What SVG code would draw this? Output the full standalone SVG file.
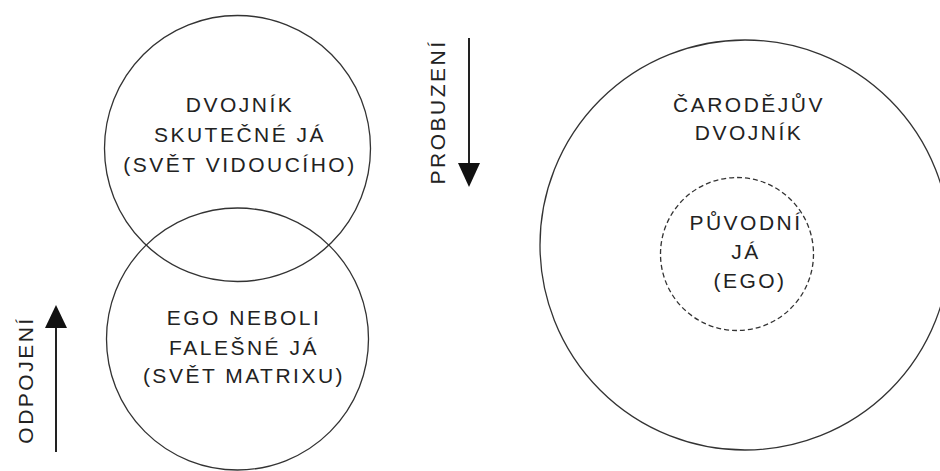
<svg xmlns="http://www.w3.org/2000/svg" width="940" height="471" viewBox="0 0 940 471">
<defs>
<style>
.c{fill:none;stroke:#333;stroke-width:1.3}
.d{fill:none;stroke:#333;stroke-width:1.3;stroke-dasharray:5,3}
.t{font-family:"Liberation Sans",Arial,sans-serif;font-size:21px;fill:#222;text-anchor:middle;letter-spacing:2.5px}
.a{stroke:#222;stroke-width:2;fill:none}
</style>
</defs>
<rect width="940" height="471" fill="#fff"/>
<g id="dvojnik">
<circle class="c" cx="237.5" cy="148.5" r="133"/>
<text class="t" x="240" y="112">DVOJNÍK</text>
<text class="t" x="240" y="142">SKUTEČNÉ JÁ</text>
<text class="t" x="240" y="172">(SVĚT VIDOUCÍHO)</text>
</g>
<g id="ego">
<circle class="c" cx="237.5" cy="339" r="131"/>
<text class="t" x="244" y="325">EGO NEBOLI</text>
<text class="t" x="244" y="355">FALEŠNÉ JÁ</text>
<text class="t" x="244" y="383">(SVĚT MATRIXU)</text>
</g>
<g id="carodejuv">
<circle class="c" cx="745" cy="245" r="205"/>
<text class="t" x="749" y="112">ČARODĚJŮV</text>
<text class="t" x="749" y="140">DVOJNÍK</text>
</g>
<g id="puvodni">
<circle class="d" cx="737" cy="254" r="76.5"/>
<text class="t" x="746" y="230">PŮVODNÍ</text>
<text class="t" x="746" y="259">JÁ</text>
<text class="t" x="750" y="288">(EGO)</text>
</g>
<g id="connectors">
<line class="a" x1="469" y1="38" x2="469" y2="164"/>
<polygon points="458,163 480,163 469,187" fill="#111"/>
<line class="a" x1="56" y1="452" x2="56" y2="326"/>
<polygon points="45,328 67,328 56,305" fill="#111"/>
</g>
<g id="labels">
<text class="t" transform="translate(445,112) rotate(-90)">PROBUZENÍ</text>
<text class="t" transform="translate(33,380) rotate(-90)">ODPOJENÍ</text>
</g>
</svg>
